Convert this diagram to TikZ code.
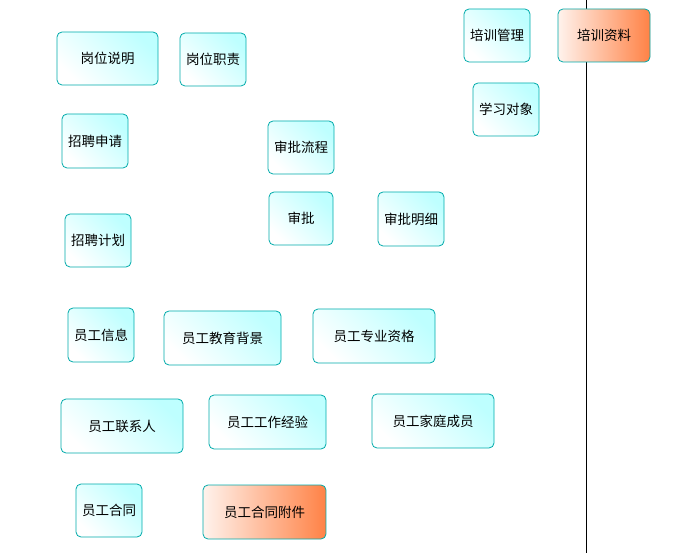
\documentclass[tikz,border=0pt]{standalone}
\usepackage{fontspec}
\setmainfont{Noto Sans CJK SC}
\definecolor{bd}{RGB}{0,170,170}
\definecolor{cy}{RGB}{190,255,255}
\definecolor{or}{RGB}{255,130,70}
\begin{document}
\begin{tikzpicture}[x=1pt,y=-1pt,
 box/.style={draw=bd, line width=0.8pt, rounded corners=5pt, inner sep=0pt, font=\fontsize{13.5}{15}\selectfont, shading=axis, left color=white, right color=cy, shading angle=135},
 obox/.style={box, left color=white!90!or, right color=or}]
\useasboundingbox (0,0) rectangle (696,553);
\fill[white] (0,0) rectangle (696,553);
\coordinate (lt) at (586,0); \coordinate (lb) at (586,553);
\draw[line width=1pt] (lt) -- (lb);
\def\bx#1#2#3#4#5#6#7{\node[#7, minimum width={#4-#2}, minimum height={#5-#3}] (#1) at ({(#2+#4)/2},{(#3+#5)/2}) {#6};}
\bx{a}{57}{32}{158}{85}{岗位说明}{box}
\bx{b}{180}{33}{246}{86}{岗位职责}{box}
\bx{c}{464}{9}{530}{62}{培训管理}{box}
\bx{d}{558}{9}{650}{62}{培训资料}{obox}
\bx{e}{473}{83}{539}{136}{学习对象}{box}
\bx{f}{62}{114}{128}{168}{招聘申请}{box}
\bx{g}{268}{121}{334}{174}{审批流程}{box}
\bx{h}{269}{192}{333}{245}{审批}{box}
\bx{i}{378}{192}{444}{246}{审批明细}{box}
\bx{j}{65}{214}{131}{267}{招聘计划}{box}
\bx{k}{68}{308}{134}{362}{员工信息}{box}
\bx{l}{164}{311}{281}{365}{员工教育背景}{box}
\bx{m}{313}{309}{435}{363}{员工专业资格}{box}
\bx{n}{61}{399}{183}{453}{员工联系人}{box}
\bx{o}{209}{395}{326}{449}{员工工作经验}{box}
\bx{p}{372}{394}{494}{448}{员工家庭成员}{box}
\bx{q}{76}{484}{142}{537}{员工合同}{box}
\bx{r}{203}{485}{326}{539}{员工合同附件}{obox}
\end{tikzpicture}
\end{document}
